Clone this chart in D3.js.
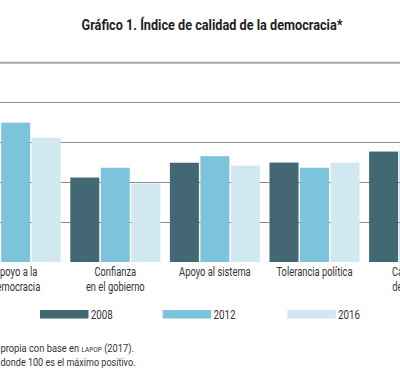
<!DOCTYPE html>
<html>
<head>
<meta charset="utf-8">
<script src="https://cdn.jsdelivr.net/npm/d3@7"></script>
<style>
  body { margin: 0; background: #fff; }
  svg { display: block; font-family: "Roboto", "DejaVu Sans", sans-serif; }
</style>
</head>
<body>
<div id="chart"></div>
<script>
// data (first group 2008 and last group are cut off at the edges)
const categories = [["Apoyo a la", "democracia"], ["Confianza", "en el gobierno"], ["Apoyo al sistema"], ["Tolerancia política"], ["Capacidad", "del Estado"]];
const years = ["2008", "2012", "2016"];
const v2008 = [64, 42.3, 49.7, 49.8, 55.3];
const v2012 = [69.8, 47.2, 53, 47.2, 56];
const v2016 = [62.3, 39.3, 48.3, 49.8, 50];
const gridTicks = [20, 40, 60, 80];
const colors = ["#436873", "#7cc4dc", "#d1e8f1"];

const width = 400, height = 376;
// the source uses a condensed face, so squeeze text down to the widths seen
const narrow = 0.78;

const svg = d3.select("#chart")
    .append("svg")
    .attr("width", width)
    .attr("height", height);

function squeeze(sel) {
    sel.each(function() {
        const w = this.getComputedTextLength();
        d3.select(this).attr("textLength", w * narrow).attr("lengthAdjust", "spacingAndGlyphs");
    });
}

// title
svg.append("text")
    .attr("x", 212)
    .attr("y", 30)
    .attr("text-anchor", "middle")
    .attr("font-size", "15px")
    .attr("font-weight", "bold")
    .attr("fill", "#222")
    .text("Gráfico 1. Índice de calidad de la democracia*")
    .call(sel => sel.attr("textLength", 261).attr("lengthAdjust", "spacingAndGlyphs"));

const y = d3.scaleLinear().domain([0, 100]).range([262, 62.3]);

const x0 = d3.scaleBand()
    .domain(d3.range(categories.length))
    .range([-29.3, -29.3 + 5 * 99.6 - 9.6])
    .paddingInner(9.6 / 99.6);

const x1 = d3.scaleBand()
    .domain(years)
    .range([0, x0.bandwidth()])
    .paddingInner(0.05);

// gridlines
svg.selectAll(".grid")
    .data(gridTicks)
    .join("line")
    .attr("x1", 0).attr("x2", width)
    .attr("y1", d => Math.round(y(d)) + 0.5)
    .attr("y2", d => Math.round(y(d)) + 0.5)
    .attr("stroke", "#8c8c8c")
    .attr("stroke-width", 1);

// top rule at 100
svg.append("line")
    .attr("x1", 0).attr("x2", width)
    .attr("y1", y(100) + 0.5).attr("y2", y(100) + 0.5)
    .attr("stroke", "#a8a8a8")
    .attr("stroke-width", 2);

const series = [v2008, v2012, v2016];
const rows = [];
categories.forEach((c, i) => {
    years.forEach((yr, k) => rows.push({cat: i, year: yr, k: k, value: series[k][i]}));
});

svg.selectAll(".bar")
    .data(rows)
    .join("rect")
    .attr("x", d => x0(d.cat) + x1(d.year))
    .attr("y", d => y(d.value))
    .attr("width", x1.bandwidth())
    .attr("height", d => y(0) - y(d.value))
    .attr("fill", d => colors[d.k]);

// category labels, one text per line
const lines = [];
categories.forEach((c, i) => c.forEach((t, j) => lines.push({cat: i, line: j, t: t})));

svg.selectAll(".cat")
    .data(lines)
    .join("text")
    .attr("x", d => x0(d.cat) + x0.bandwidth() / 2)
    .attr("y", d => 276 + d.line * 14.5)
    .attr("text-anchor", "middle")
    .attr("font-size", "12px")
    .attr("fill", "#333")
    .text(d => d.t)
    .call(squeeze);

// legend
const legX = [40, 162.7, 287.3];
const leg = svg.selectAll(".leg")
    .data(years)
    .join("g")
    .attr("transform", (d, i) => `translate(${legX[i]},310)`);

leg.append("rect")
    .attr("width", 48.5)
    .attr("height", 8.5)
    .attr("fill", (d, i) => colors[i]);

leg.append("text")
    .attr("x", 50.8)
    .attr("y", 8.8)
    .attr("font-size", "12.5px")
    .attr("fill", "#333")
    .text(d => d)
    .call(squeeze);

// notes: the left part runs off the picture
svg.append("text")
    .attr("x", -1)
    .attr("y", 352)
    .attr("text-anchor", "end")
    .attr("font-size", "11.5px")
    .attr("fill", "#333")
    .text("Fuente: Elaboración")
    .call(squeeze);

const note1 = svg.append("text")
    .attr("x", 0.5)
    .attr("y", 352)
    .attr("font-size", "11.5px")
    .attr("fill", "#333");
note1.append("tspan").text("propia con base en ");
note1.append("tspan").attr("font-size", "8px").text("LAPOP");
note1.append("tspan").text(" (2017).");
note1.attr("textLength", 133.5).attr("lengthAdjust", "spacingAndGlyphs");

svg.append("text")
    .attr("x", -3)
    .attr("y", 366)
    .attr("text-anchor", "end")
    .attr("font-size", "11.5px")
    .attr("fill", "#333")
    .text("* Índice de 0 a 100,")
    .call(squeeze);

svg.append("text")
    .attr("x", 0.5)
    .attr("y", 366)
    .attr("font-size", "11.5px")
    .attr("fill", "#333")
    .text("donde 100 es el máximo positivo.")
    .attr("textLength", 135)
    .attr("lengthAdjust", "spacingAndGlyphs");
</script>
</body>
</html>
